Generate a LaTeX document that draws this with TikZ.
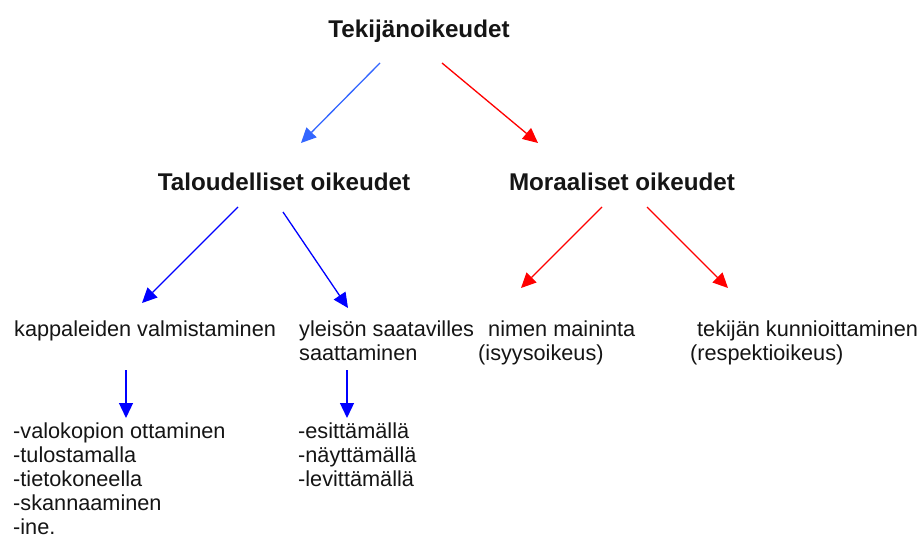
\documentclass[tikz,border=0pt]{standalone}
\usepackage{fontspec}
\setmainfont{Liberation Sans}
\usetikzlibrary{arrows.meta}
\definecolor{lblue}{HTML}{3366FF}
\definecolor{dblue}{HTML}{0000FF}
\definecolor{rred}{HTML}{FF0000}
\definecolor{txt}{HTML}{151515}
\tikzset{
  head/.style={font=\fontsize{24.2}{28}\selectfont\bfseries, text=txt, inner sep=0pt},
  item/.style={font=\fontsize{21.7}{24}\selectfont, text=txt, inner sep=0pt, anchor=base west},
  conn/.style={line width=1.3pt, -{Triangle[length=15pt,width=14pt]}},
}
\begin{document}
\begin{tikzpicture}[x=1pt,y=-1pt]
\useasboundingbox (0,0) rectangle (923,540);
\fill[white] (0,0) rectangle (923,540);
% headings
\node[head, anchor=base] (top) at (419,38) {Tekijänoikeudet};
\node[head, anchor=base] (tal) at (284,191) {Taloudelliset oikeudet};
\node[head, anchor=base] (mor) at (622,191) {Moraaliset oikeudet};
% items
\node[item] (kap) at (14,336) {kappaleiden valmistaminen};
\node[item] (yle) at (299,336) {yleisön saatavilles};
\node[item] (yle2) at (299,360) {saattaminen};
\node[item] (nim) at (488,336) {nimen maininta};
\node[item] (isy) at (478,360) {(isyysoikeus)};
\node[item] (tek) at (697,336) {tekijän kunnioittaminen};
\node[item] (res) at (690,360) {(respektioikeus)};
\node[item] (l1a) at (13,438) {-valokopion ottaminen};
\node[item] (l1b) at (13,462) {-tulostamalla};
\node[item] (l1c) at (13,486) {-tietokoneella};
\node[item] (l1d) at (13,510) {-skannaaminen};
\node[item] (l1e) at (13,534) {-ine.};
\node[item] (l2a) at (298,438) {-esittämällä};
\node[item] (l2b) at (298,462) {-näyttämällä};
\node[item] (l2c) at (298,486) {-levittämällä};
% connector end points
\coordinate (a1s) at (380,63);  \coordinate (a1e) at (301,143);
\coordinate (a2s) at (442,63);  \coordinate (a2e) at (538,143);
\coordinate (b1s) at (238,207); \coordinate (b1e) at (142,303);
\coordinate (b2s) at (283,212); \coordinate (b2e) at (348,308);
\coordinate (c1s) at (602,207); \coordinate (c1e) at (521,288);
\coordinate (c2s) at (647,207); \coordinate (c2e) at (728,288);
\coordinate (d1s) at (126,370); \coordinate (d1e) at (126,418);
\coordinate (d2s) at (347,370); \coordinate (d2e) at (347,418);
% connectors
\draw[conn, lblue] (a1s) -- (a1e);
\draw[conn, rred] (a2s) -- (a2e);
\draw[conn, dblue] (b1s) -- (b1e);
\draw[conn, dblue] (b2s) -- (b2e);
\draw[conn, rred] (c1s) -- (c1e);
\draw[conn, rred] (c2s) -- (c2e);
\draw[conn, dblue] (d1s) -- (d1e);
\draw[conn, dblue] (d2s) -- (d2e);
\end{tikzpicture}
\end{document}
